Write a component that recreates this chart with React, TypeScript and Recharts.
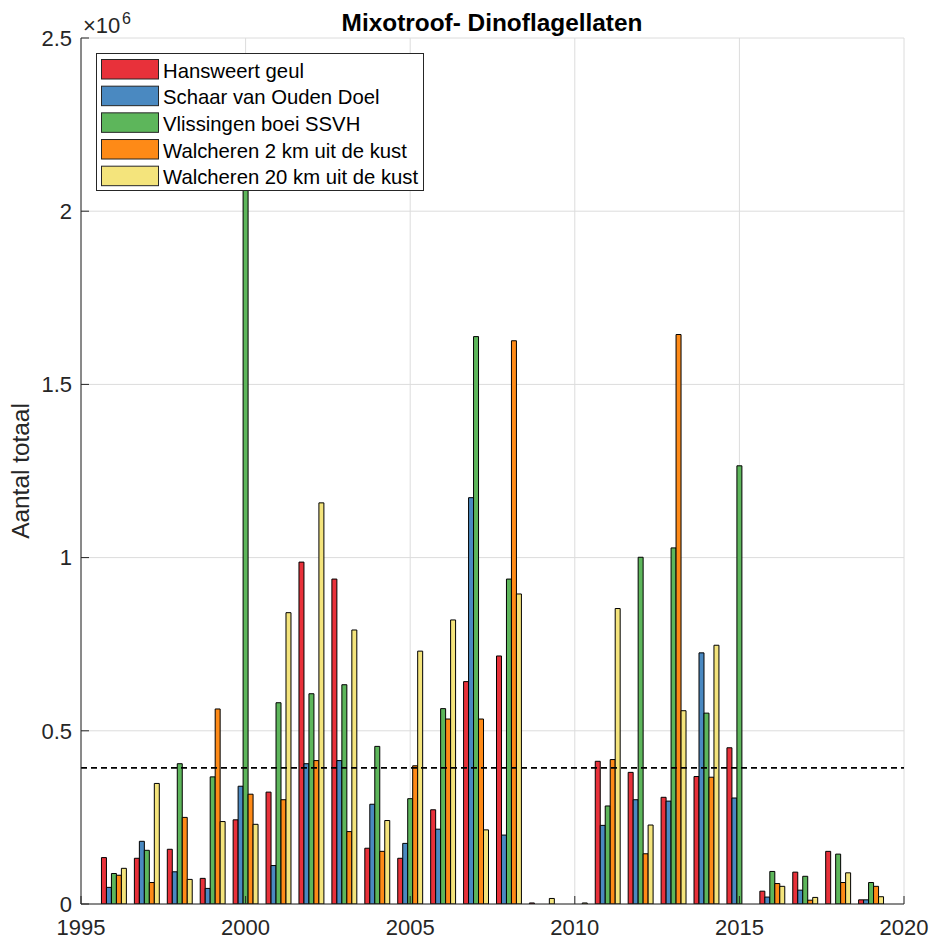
import React from 'react';
import { BarChart, Bar, XAxis, YAxis, CartesianGrid, ReferenceLine, Legend } from 'recharts';

const years = [1996, 1997, 1998, 1999, 2000, 2001, 2002, 2003, 2004, 2005, 2006, 2007, 2008, 2009, 2010, 2011, 2012, 2013, 2014, 2015, 2016, 2017, 2018, 2019];

const hansweertGeul = [134000, 132000, 158000, 74000, 243000, 323000, 987000, 938000, 161000, 132000, 272000, 642000, 716000, 3000, 0, 412000, 380000, 308000, 368000, 451000, 37000, 92000, 152000, 12000];
const schaarVanOudenDoel = [48000, 181000, 93000, 45000, 340000, 111000, 405000, 414000, 288000, 175000, 216000, 1173000, 199000, 0, 0, 227000, 301000, 297000, 725000, 306000, 20000, 40000, 0, 12000];
const vlissingenBoei = [88000, 155000, 405000, 367000, 2300000, 581000, 607000, 633000, 455000, 304000, 564000, 1638000, 938000, 0, 0, 283000, 1001000, 1028000, 551000, 1265000, 94000, 80000, 144000, 62000];
const walcheren2 = [83000, 62000, 250000, 563000, 317000, 301000, 414000, 209000, 152000, 399000, 534000, 534000, 1626000, 0, 0, 417000, 145000, 1644000, 366000, 0, 59000, 11000, 62000, 51000];
const walcheren20 = [103000, 348000, 71000, 238000, 230000, 841000, 1158000, 791000, 241000, 730000, 820000, 214000, 895000, 16000, 3000, 853000, 228000, 558000, 747000, 0, 51000, 19000, 90000, 21000];

const referenceValue = 393000;

const xTicks = [1995, 2000, 2005, 2010, 2015, 2020];
const yTicks = [0, 500000, 1000000, 1500000, 2000000, 2500000];

const seriesNames = ['Hansweert geul', 'Schaar van Ouden Doel', 'Vlissingen boei SSVH', 'Walcheren 2 km uit de kust', 'Walcheren 20 km uit de kust'];
const seriesKeys = ['hansweert', 'schaar', 'vlissingen', 'walch2', 'walch20'];
const seriesColors = ['#E8313A', '#4A89C1', '#5DB65B', '#FE8A17', '#F4E47C'];

const data = years.map((year, i) => ({
  year,
  hansweert: hansweertGeul[i],
  schaar: schaarVanOudenDoel[i],
  vlissingen: vlissingenBoei[i],
  walch2: walcheren2[i],
  walch20: walcheren20[i],
}));

const FONT = '"Liberation Sans", Arial, Helvetica, sans-serif';
const AXIS = '#262626';

const LegendBox = () => (
  <div style={{ width: 328, height: 138, border: '1px solid #262626', background: '#fff', boxSizing: 'border-box' }}>
    <svg width={326} height={136} style={{ display: 'block' }}>
      {seriesNames.map((name, i) => (
        <g key={name}>
          <rect x={4.5} y={5.5 + i * 26.67} width={57} height={19.5} fill={seriesColors[i]} stroke="#262626" strokeWidth={1} />
          <text x={66} y={23.5 + i * 26.67} fontSize={20.3} fontFamily={FONT} fill="#000">{name}</text>
        </g>
      ))}
    </svg>
  </div>
);

export default function App() {
  return (
    <div style={{ position: 'absolute', left: 0, top: 0, width: 933, height: 942, background: '#fff' }}>
      <BarChart
        width={933}
        height={942}
        data={data}
        margin={{ top: 38, right: 29, bottom: 0, left: 0 }}
        barGap={0}
        barSize={4.984}
      >
        <CartesianGrid stroke="#dcdcdc" strokeWidth={1} />
        <XAxis
          dataKey="year"
          type="number"
          domain={[1995, 2020]}
          ticks={xTicks}
          interval={0}
          allowDataOverflow
          height={38}
          tickSize={-8}
          tickMargin={23}
          stroke={AXIS}
          tick={{ fill: AXIS, fontSize: 22, fontFamily: FONT }}
        />
        <XAxis
          xAxisId="top"
          orientation="top"
          dataKey="year"
          type="number"
          domain={[1995, 2020]}
          ticks={xTicks}
          interval={0}
          allowDataOverflow
          height={0}
          tickSize={-8}
          tick={false}
          stroke={AXIS}
        />
        <YAxis
          type="number"
          domain={[0, 2500000]}
          ticks={yTicks}
          interval={0}
          allowDataOverflow
          width={81}
          tickSize={-8}
          tickMargin={17}
          stroke={AXIS}
          tick={{ fill: AXIS, fontSize: 22, fontFamily: FONT }}
          tickFormatter={(v: number) => String(v / 1000000)}
        />
        <YAxis
          yAxisId="right"
          orientation="right"
          type="number"
          domain={[0, 2500000]}
          ticks={yTicks}
          interval={0}
          allowDataOverflow
          width={0}
          tickSize={-8}
          tick={false}
          stroke={AXIS}
        />
        {seriesKeys.map((key, i) => (
          <Bar
            key={key}
            dataKey={key}
            name={seriesNames[i]}
            fill={seriesColors[i]}
            stroke="#000"
            strokeWidth={1}
            isAnimationActive={false}
          />
        ))}
        <ReferenceLine y={referenceValue} stroke="#000" strokeDasharray="6 4" strokeWidth={1.6} />
        <Legend
          layout="vertical"
          align="center"
          verticalAlign="middle"
          wrapperStyle={{ left: 96, top: 53, width: 328, height: 138 }}
          content={() => <LegendBox />}
        />
      </BarChart>
      <svg width={933} height={942} style={{ position: 'absolute', left: 0, top: 0, pointerEvents: 'none' }}>
        <text x={492} y={31} textAnchor="middle" fontSize={24.4} fontWeight="bold" fontFamily={FONT} fill="#000">
          Mixotroof- Dinoflagellaten
        </text>
        <text x={83} y={33} fontSize={22} fontFamily={FONT} fill={AXIS}>×10</text>
        <text x={122} y={24} fontSize={16} fontFamily={FONT} fill={AXIS}>6</text>
        <text x={29} y={471} textAnchor="middle" fontSize={24.4} fontFamily={FONT} fill={AXIS} transform="rotate(-90 29 471)">
          Aantal totaal
        </text>
      </svg>
    </div>
  );
}
